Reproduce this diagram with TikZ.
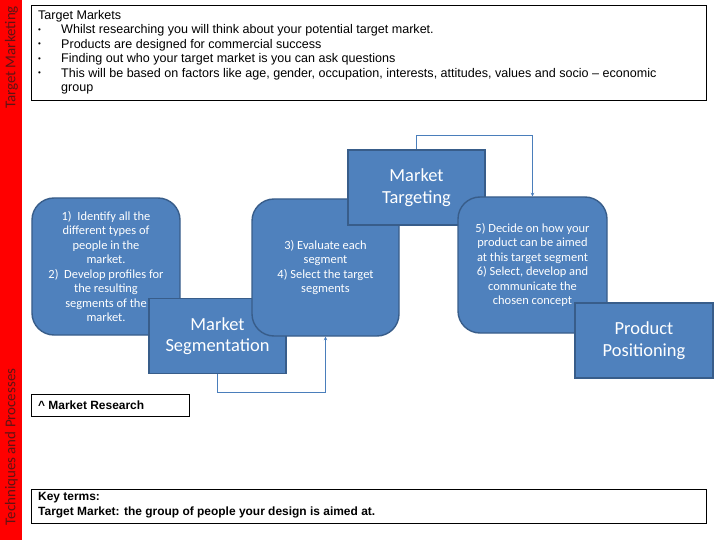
\documentclass[tikz,border=0pt]{standalone}
\usepackage{fontspec}
\setmainfont{Carlito}
\newfontfamily\arialfont{Liberation Sans}
\usepackage{tikz}
\usetikzlibrary{arrows.meta}
\definecolor{stepblue}{HTML}{4F81BD}
\definecolor{stepedge}{HTML}{385D8A}
\definecolor{linkblue}{HTML}{4A7EBB}
\definecolor{sidetext}{RGB}{95,20,20}
\newcommand{\notebullet}{\makebox[23bp][l]{\raisebox{1.5bp}{\fontsize{8}{8}\selectfont\textbullet}}}

\begin{document}
\begin{tikzpicture}[x=1bp, y=-1bp,
    every node/.style={inner sep=0pt},
    stagebox/.style={draw=stepedge, fill=stepblue, line width=1.4bp,
        rounded corners=22bp, minimum width=148bp, minimum height=137bp,
        text=white, align=center, font=\fontsize{12.5}{14.5}\selectfont},
    titlebox/.style={draw=stepedge, fill=stepblue, line width=1.4bp,
        minimum width=137bp, minimum height=75bp,
        text=white, align=center, font=\fontsize{18.5}{21.5}\selectfont},
    notebox/.style={draw=black, line width=0.8bp, fill=white, anchor=north west},
    link/.style={draw=linkblue, line width=1.3bp,
        -{Stealth[length=3.5bp, width=3.5bp]}},
    sidelbl/.style={rotate=90, text=sidetext, font=\fontsize{15}{17}\selectfont}
]
\useasboundingbox (0,0) rectangle (720,540);
% side bar
\fill[red] (0,0) rectangle (22,540);
\node[sidelbl] (sidetop) at (11.5,57.5) {Target Marketing};
\node[sidelbl] (sidebot) at (11.5,447) {Techniques and Processes};
% notes at the top
\node[notebox, minimum width=675bp, minimum height=95bp] (markets) at (31,5) {};
\node[anchor=north west, align=left,
    font=\arialfont\fontsize{12.6}{14.5}\selectfont] (marketstxt) at (38,10)
    {Target Markets\\
     \notebullet Whilst researching you will think about your potential target market.\\
     \notebullet Products are designed for commercial success\\
     \notebullet Finding out who your target market is you can ask questions\\
     \notebullet This will be based on factors like age, gender, occupation, interests, attitudes, values and socio – economic\\
     \hspace*{23bp}group};
% stages
\node[stagebox] (segsteps) at (106,266.5)
    {1)~~Identify all the\\different types of\\people in the\\market.\\
     2)~~Develop profiles for\\the resulting\\segments of the\\market.};
\node[titlebox] (seg) at (217.5,336) {Market\\Segmentation};
\node[stagebox, minimum width=147bp] (targsteps) at (325.5,267.5)
    {3) Evaluate each\\segment\\4) Select the target\\segments};
\node[titlebox] (targ) at (416.5,187.5) {Market\\Targeting};
\node[stagebox, minimum width=149bp, minimum height=136bp] (possteps) at (532.5,265)
    {5) Decide on~how your\\product can be aimed\\at this target segment\\
     6) Select, develop and\\communicate the\\chosen concept};
\node[titlebox, minimum width=138bp] (pos) at (644,340.5) {Product\\Positioning};
% connectors
\draw[link] (seg.south) -- ++(0,18) -| (targsteps.south);
\draw[link] (targ.north) -- ++(0,-14) -| (possteps.north);
% notes at the bottom
\node[notebox, minimum width=158bp, minimum height=22bp] (research) at (31,394) {};
\node[anchor=west, font=\arialfont\bfseries\fontsize{12}{14}\selectfont]
    (researchtxt) at (38,405.5) {\^{} Market Research};
\node[notebox, minimum width=675bp, minimum height=34bp] (keyterms) at (31,489) {};
\node[anchor=north west, align=left,
    font=\arialfont\bfseries\fontsize{12}{15}\selectfont] (keytermstxt) at (38,492.5)
    {Key terms:\\Target Market: the group of people your design is aimed at.};
\end{tikzpicture}
\end{document}
